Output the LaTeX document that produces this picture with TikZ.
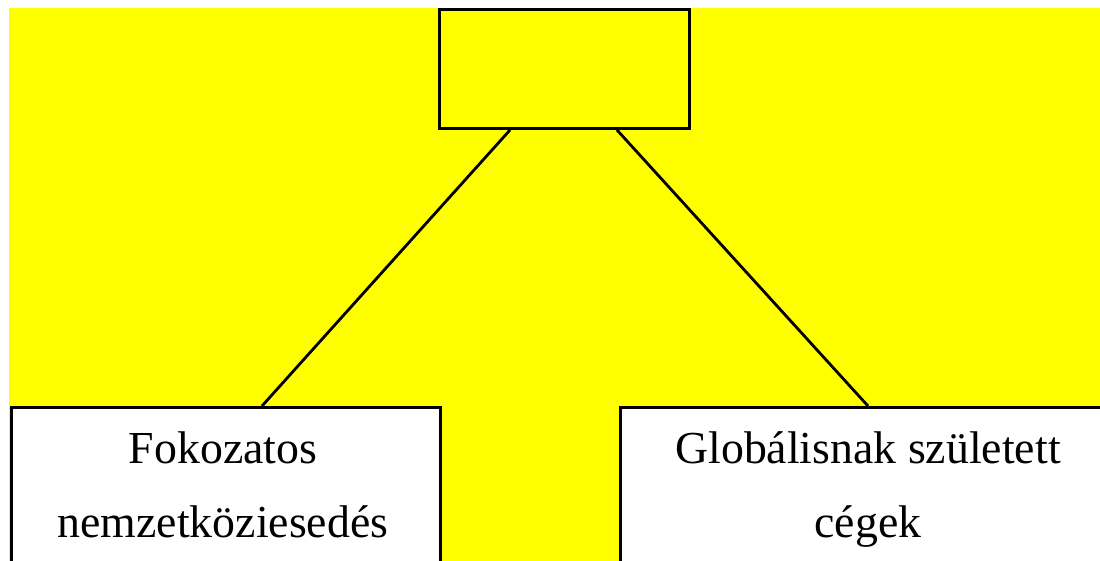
\documentclass[tikz,border=0pt]{standalone}
\usepackage{fontspec}
\setmainfont{Liberation Serif}
\usetikzlibrary{calc}
\definecolor{bgyellow}{HTML}{FFFF00}
\tikzset{
  frame/.style={draw=black, line width=3pt, rectangle, inner sep=0pt},
  topbox/.style={frame, fill=bgyellow, minimum width=250pt, minimum height=119pt},
  basebox/.style={frame, fill=white, anchor=north west, minimum height=220pt},
  label/.style={font=\fontsize{45.8}{74}\selectfont, align=center, anchor=base, inner sep=0pt},
  link/.style={draw=black, line width=2.8pt}
}
\begin{document}
\begin{tikzpicture}[x=1pt, y=-1pt]
  \useasboundingbox (0,0) rectangle (1100,561);
  \clip (0,0) rectangle (1100,561);
  % background panel
  \fill[bgyellow] (9,8) rectangle (1110,570);
  % boxes
  \node[topbox] (top) at (564.5,69) {};
  \node[basebox, minimum width=429pt] (left) at (10,406) {};
  \node[basebox, minimum width=498pt] (right) at (619,406) {};
  % texts (anchored on the baseline of the last line)
  \node[label] (ltext) at (223,537) {Fokozatos\\nemzetköziesedés};
  \node[label] (rtext) at (868,537) {Globálisnak született\\cégek};
  % connectors
  \draw[link] ($(top.south west)+(72,0)$) -- ($(left.north west)+(252,0)$);
  \draw[link] ($(top.south west)+(179,0)$) -- ($(right.north west)+(249,0)$);
\end{tikzpicture}
\end{document}
